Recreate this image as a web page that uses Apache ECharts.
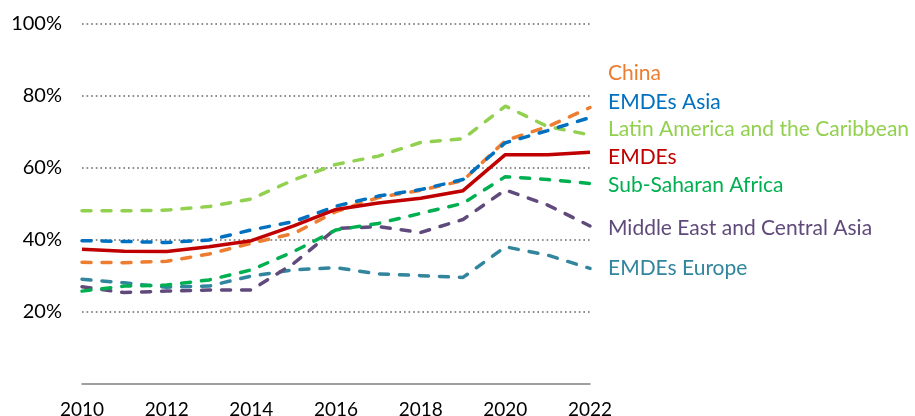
<!DOCTYPE html>
<html>
<head>
<meta charset="utf-8">
<script src="https://cdn.jsdelivr.net/npm/echarts@6/dist/echarts.min.js"></script>
<style>
  html, body { margin: 0; padding: 0; background: #fff; }
  #chart { width: 915px; height: 416px; }
</style>
</head>
<body>
<div id="chart"></div>
<script>
// years on the x axis
const years = ["2010", "2011", "2012", "2013", "2014", "2015", "2016", "2017", "2018", "2019", "2020", "2021", "2022"];

// series values, percent
const china = [33.8, 33.7, 34.1, 36.1, 39.1, 41.8, 47.9, 51.8, 53.8, 56.5, 67.6, 71.5, 76.8];
const emdesAsia = [39.8, 39.6, 39.3, 40.0, 42.8, 45.1, 49.4, 52.2, 54.0, 56.8, 67.0, 70.4, 74.0];
const latinAmerica = [48.1, 48.1, 48.3, 49.3, 51.4, 56.7, 61.0, 63.3, 67.1, 68.1, 77.2, 71.5, 69.2];
const emdes = [37.4, 36.9, 36.8, 38.1, 39.8, 43.9, 48.5, 50.3, 51.6, 53.7, 63.7, 63.7, 64.4];
const subSaharan = [25.8, 27.2, 27.5, 28.9, 31.7, 36.8, 42.8, 44.6, 47.4, 50.2, 57.6, 56.8, 55.7];
const middleEast = [27.0, 25.4, 25.8, 26.1, 26.1, 33.5, 43.2, 43.7, 42.1, 45.7, 53.9, 49.7, 43.9];
const emdesEurope = [29.1, 28.1, 26.9, 27.2, 30.0, 31.7, 32.3, 30.6, 30.1, 29.6, 38.1, 35.8, 32.1];

const names = ["China", "EMDEs Asia", "Latin America and the Caribbean", "EMDEs", "Sub-Saharan Africa", "Middle East and Central Asia", "EMDEs Europe"];
const yTicks = [0, 20, 40, 60, 80, 100];

const FONT = "Lato";

function makeLine(name, data, color, dashed, labelDy) {
  return {
    name: name,
    type: "line",
    data: data,
    symbol: "none",
    smooth: false,
    lineStyle: {
      color: color,
      width: 3.5,
      type: dashed ? [9, 11] : "solid",
      cap: dashed ? "round" : "butt"
    },
    endLabel: {
      show: true,
      formatter: "{a}",
      color: color,
      fontFamily: FONT,
      fontSize: 21,
      distance: 18,
      offset: [0, labelDy]
    },
    emphasis: { disabled: true }
  };
}

const chart = echarts.init(document.getElementById("chart"));
chart.setOption({
  animation: false,
  grid: {
    left: 82,
    right: 325,
    top: 24,
    bottom: 32,
    outerBoundsMode: "none"
  },
  xAxis: {
    type: "category",
    data: years,
    boundaryGap: false,
    axisTick: { show: false },
    axisLine: {
      lineStyle: { color: "#808080", width: 1.5 }
    },
    axisLabel: {
      interval: 1,
      color: "#000",
      fontFamily: FONT,
      fontSize: 19,
      margin: 16
    },
    splitLine: { show: false }
  },
  yAxis: {
    type: "value",
    min: yTicks[0],
    max: yTicks[yTicks.length - 1],
    interval: 20,
    axisLine: { show: false },
    axisTick: { show: false },
    axisLabel: {
      color: "#000",
      fontFamily: FONT,
      fontSize: 20,
      margin: 20,
      formatter: function (v) {
        return v === 0 ? "" : v + "%";
      }
    },
    splitLine: {
      show: true,
      showMinLine: false,
      lineStyle: {
        color: "#8c8c8c",
        width: 2,
        type: [1.6, 3]
      }
    }
  },
  series: [
    makeLine(names[6], emdesEurope, "#31859C", true, 0),
    makeLine(names[5], middleEast, "#604A7B", true, 2),
    makeLine(names[4], subSaharan, "#00B050", true, 2),
    makeLine(names[2], latinAmerica, "#92D050", true, -6),
    makeLine(names[0], china, "#ED7D31", true, -34),
    makeLine(names[1], emdesAsia, "#0070C0", true, -15),
    makeLine(names[3], emdes, "#C00000", false, 5)
  ]
});
</script>
</body>
</html>
